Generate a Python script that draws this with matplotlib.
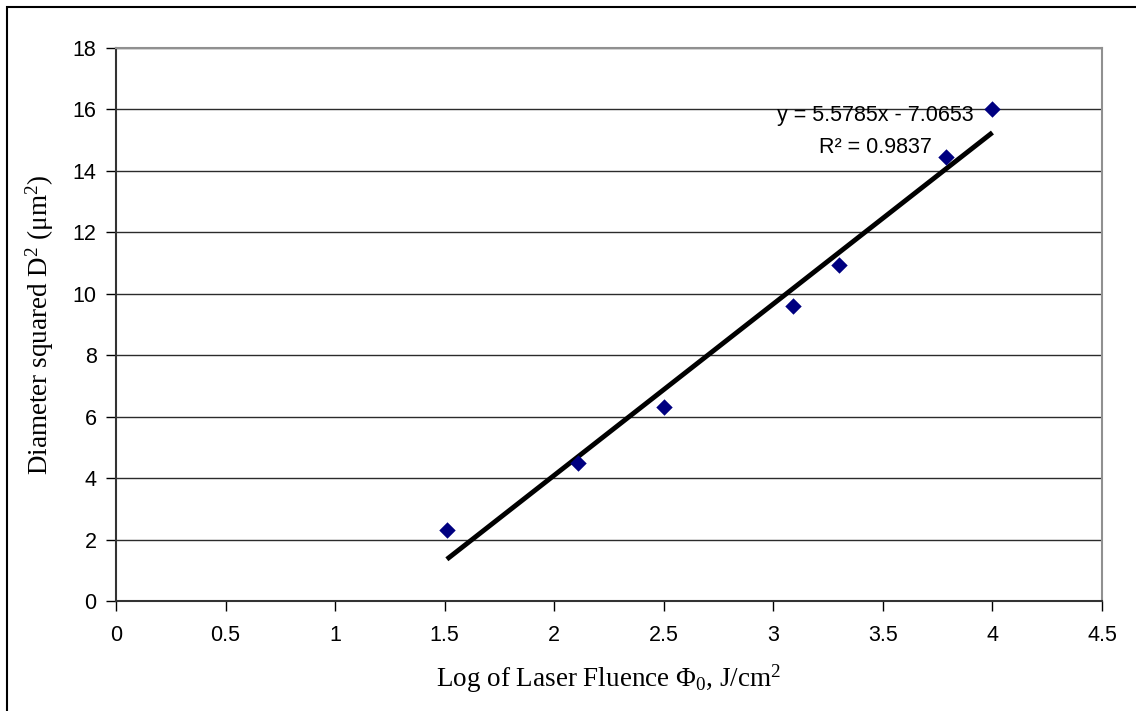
import matplotlib
matplotlib.use('Agg')
import matplotlib.pyplot as plt
from matplotlib.patches import Rectangle

# log of laser fluence vs diameter squared, with an excel style linear trendline
log_fluence = [1.51, 2.11, 2.50, 3.09, 3.30, 3.79, 4.00]
diam_sq = [2.31, 4.49, 6.31, 9.60, 10.94, 14.45, 16.00]

# trendline coefficients as printed on the chart
slope = 5.5785
intercept = -7.0653
r_squared = 0.9837

x_ticks = [0, 0.5, 1, 1.5, 2, 2.5, 3, 3.5, 4, 4.5]
y_ticks = [0, 2, 4, 6, 8, 10, 12, 14, 16, 18]

plt.rcParams['mathtext.fontset'] = 'custom'
plt.rcParams['mathtext.rm'] = 'Liberation Serif'
plt.rcParams['mathtext.it'] = 'Liberation Serif:italic'

fig = plt.figure(figsize=(11.36, 7.11), dpi=100)
ax = fig.add_axes([116 / 1136, 1 - 601 / 711, (1102 - 116) / 1136, (601 - 48) / 711])

# outer chart border (only top/left are inside the picture)
fig.patches.append(Rectangle((7 / 1136, -0.1), 1.2, 1 - 7 / 711 + 0.1, transform=fig.transFigure,
                             fill=False, edgecolor='black', linewidth=1.5))

for yv in y_ticks[1:]:
    ax.axhline(yv, color='#2b2b2b', linewidth=1.0, zorder=1)

x0, x1 = min(log_fluence), max(log_fluence)
ax.plot([x0, x1], [slope * x0 + intercept, slope * x1 + intercept], color='black', linewidth=3.5,
        solid_capstyle='butt', zorder=2)
ax.scatter(log_fluence, diam_sq, marker='D', s=70, color='#000080', zorder=3, linewidths=0)

ax.set_xlim(0, 4.5)
ax.set_ylim(0, 18)
ax.set_xticks(x_ticks)
ax.set_xticklabels([f'{v:g}' for v in x_ticks])
ax.set_yticks(y_ticks)
ax.set_yticklabels([str(v) for v in y_ticks])
ax.tick_params(direction='out', length=7, width=1, color='black', labelsize=15.5)
ax.tick_params(axis='x', pad=10)
ax.tick_params(axis='y', pad=7)
for lbl in ax.get_xticklabels() + ax.get_yticklabels():
    lbl.set_fontfamily('Liberation Sans')

ax.spines['left'].set_color('#333333')
ax.spines['bottom'].set_color('#333333')
ax.spines['top'].set_color('#909090')
ax.spines['right'].set_color('#909090')
for s in ax.spines.values():
    s.set_linewidth(1.5)

ax.set_xlabel('Log of Laser Fluence Φ$_0$, J/cm$^2$', fontfamily='Liberation Serif', fontsize=19.5, labelpad=12)
ax.set_ylabel('Diameter squared D$^2$ (μm$^2$)', fontfamily='Liberation Serif', fontsize=19.5, labelpad=12)

ax.text(3.464, 15.79, f'y = {slope}x - {abs(intercept)}', ha='center', va='center',
        fontfamily='Liberation Sans', fontsize=15.5)
ax.text(3.464, 14.75, f'R² = {r_squared}', ha='center', va='center',
        fontfamily='Liberation Sans', fontsize=15.5)

fig.savefig('out.png', dpi=100, facecolor='white')
